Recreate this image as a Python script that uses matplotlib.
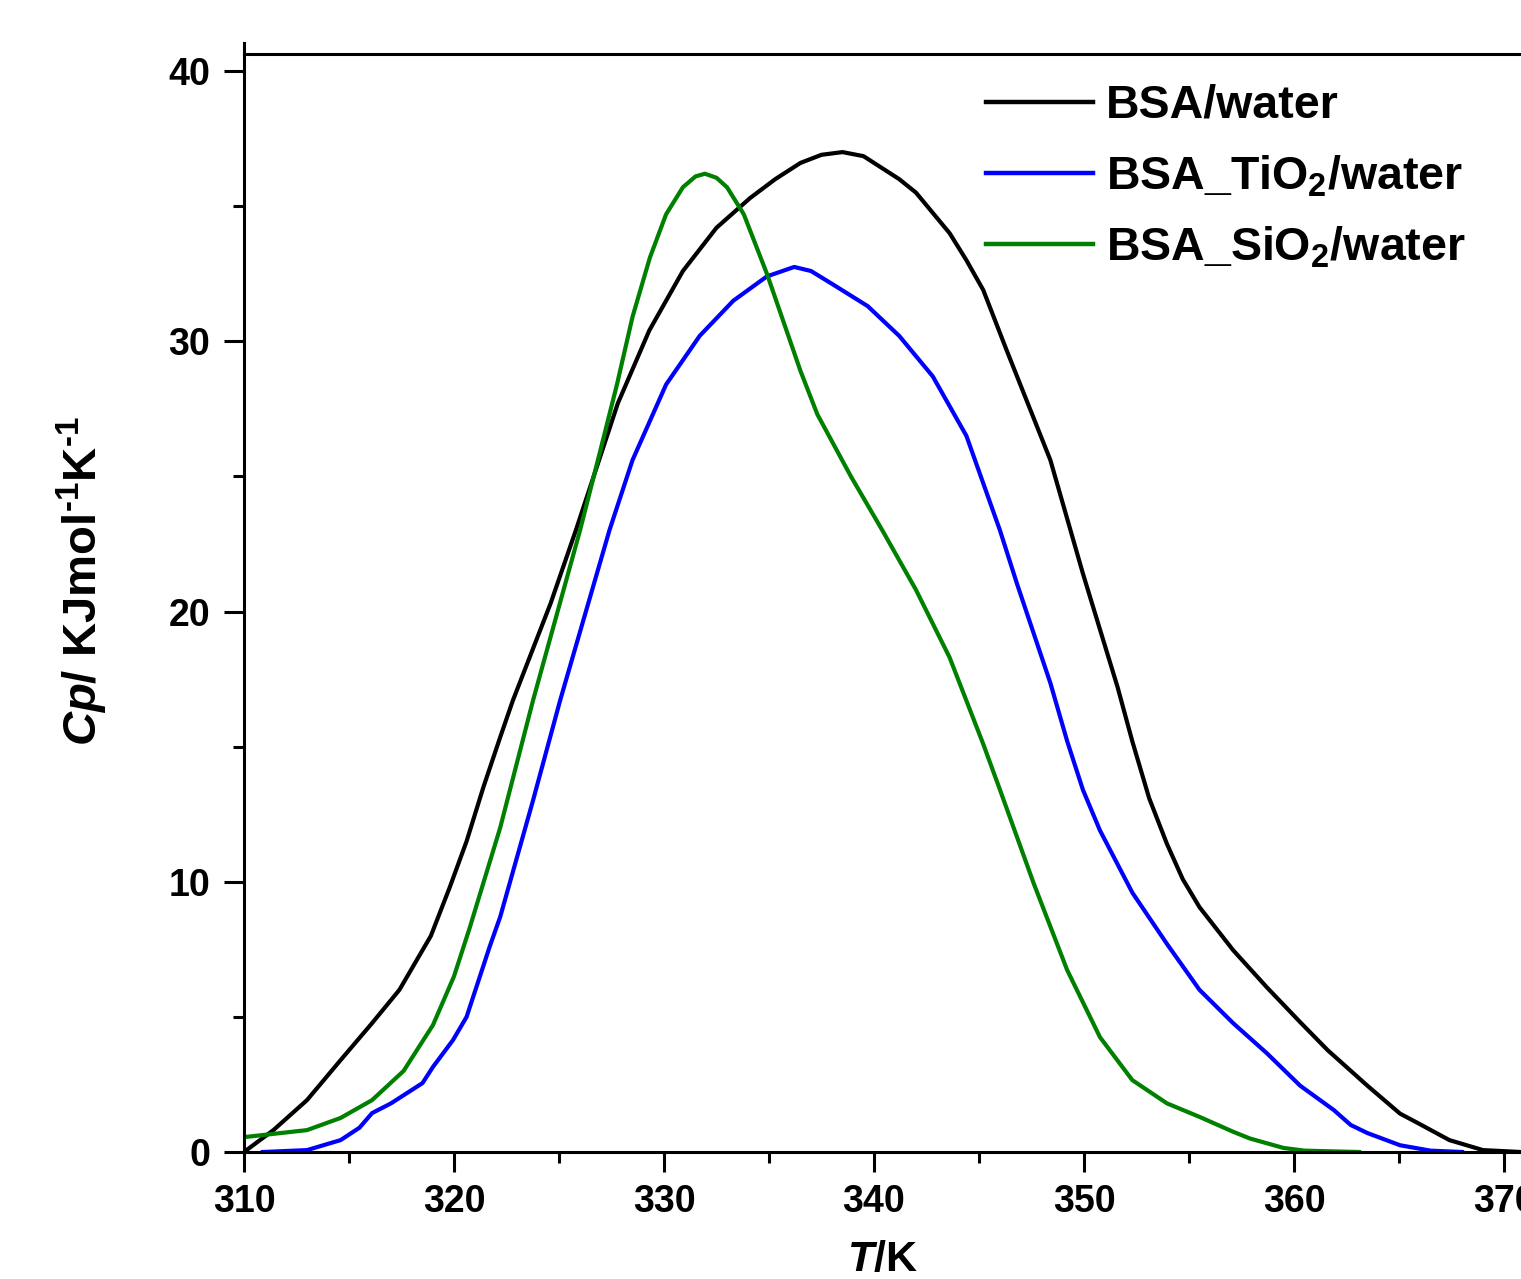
import numpy as np
import matplotlib
matplotlib.use("Agg")
import matplotlib.pyplot as plt

plt.rcParams['font.family'] = ['Liberation Sans', 'DejaVu Sans']
plt.rcParams['font.weight'] = 'bold'
plt.rcParams['mathtext.fontset'] = 'custom'
plt.rcParams['mathtext.rm'] = 'Liberation Sans:bold'
plt.rcParams['mathtext.it'] = 'Liberation Sans:bold:italic'
plt.rcParams['mathtext.bf'] = 'Liberation Sans:bold'

# BSA/water
t_bsa = [310.0, 311.4, 313.0, 314.6, 316.1, 317.4, 318.9, 319.8, 320.6, 321.4,
         322.2, 322.8, 324.6, 325.8, 327.8, 329.3, 330.9, 332.5, 334.1, 335.3,
         336.5, 337.5, 338.5, 339.5, 340.4, 341.2, 342.0, 343.6, 344.4, 345.2,
         346.3, 348.4, 349.95, 351.6, 352.3, 353.1, 353.95, 354.7, 355.5, 357.1,
         358.7, 360.3, 361.6, 363.5, 365.05, 365.9, 367.4, 369.0, 370.8]
cp_bsa = [0.0, 0.81, 1.92, 3.40, 4.77, 6.0, 8.0, 9.8, 11.5, 13.5,
          15.35, 16.7, 20.3, 23.0, 27.7, 30.4, 32.6, 34.2, 35.3, 36.0,
          36.6, 36.9, 37.0, 36.85, 36.4, 36.0, 35.5, 34.0, 33.0, 31.9,
          29.7, 25.6, 21.4, 17.2, 15.2, 13.1, 11.4, 10.1, 9.06, 7.47,
          6.1, 4.8, 3.77, 2.45, 1.42, 1.07, 0.44, 0.07, 0.0]

# BSA_TiO2/water
t_tio2 = [310.9, 313.0, 314.6, 315.5, 316.1, 317.0, 317.4, 318.5, 319.0, 319.95,
          320.6, 321.7, 322.2, 323.76, 325.05, 327.4, 328.5, 330.1, 331.7, 333.3,
          334.9, 336.2, 337.0, 338.05, 339.7, 341.2, 342.8, 344.4, 346.0, 346.8,
          348.4, 349.2, 349.95, 350.76, 352.3, 353.95, 355.5, 357.1, 358.7, 360.3,
          361.9, 362.7, 363.5, 365.05, 366.5, 368.0]
cp_tio2 = [0.0, 0.07, 0.44, 0.9, 1.44, 1.8, 2.0, 2.55, 3.15, 4.14,
           5.0, 7.6, 8.7, 13.0, 16.7, 23.0, 25.6, 28.4, 30.2, 31.5,
           32.4, 32.75, 32.6, 32.1, 31.3, 30.2, 28.7, 26.5, 23.0, 21.05,
           17.35, 15.2, 13.4, 11.9, 9.6, 7.7, 6.0, 4.77, 3.66, 2.45,
           1.55, 1.0, 0.7, 0.25, 0.05, 0.0]

# BSA_SiO2/water
t_sio2 = [310.0, 313.0, 314.6, 316.1, 317.6, 319.0, 320.0, 320.75, 322.2, 323.76,
          326.0, 326.95, 327.76, 328.5, 329.33, 330.1, 330.9, 331.5, 331.95, 332.5,
          333.0, 333.8, 334.9, 335.7, 336.5, 337.3, 338.9, 340.4, 342.0, 343.6,
          345.2, 346.0, 347.6, 349.2, 350.76, 352.3, 353.95, 355.5, 357.1, 357.9,
          359.5, 360.5, 363.1]
cp_sio2 = [0.55, 0.81, 1.26, 1.92, 3.0, 4.7, 6.5, 8.3, 12.0, 16.7,
           23.0, 25.9, 28.4, 30.9, 33.1, 34.7, 35.7, 36.1, 36.2, 36.05,
           35.7, 34.7, 32.5, 30.7, 28.9, 27.3, 25.0, 23.0, 20.8, 18.3,
           15.1, 13.4, 9.95, 6.73, 4.25, 2.66, 1.8, 1.3, 0.75, 0.5,
           0.15, 0.05, 0.0]

labels = ['BSA/water', r'BSA_TiO$_\mathregular{2}$/water', r'BSA_SiO$_\mathregular{2}$/water']
colors = ['black', '#0000ff', '#008000']

W, H = 1521, 1279
fig = plt.figure(figsize=(W / 100, H / 100), dpi=100)
left, right, bottom, top = 244, 1521, 1152, 54
ax = fig.add_axes([left / W, 1 - bottom / H, (right - left) / W, (bottom - top) / H])

lw = 3.0
ax.plot(t_bsa, cp_bsa, color=colors[0], lw=lw, label=labels[0])
ax.plot(t_tio2, cp_tio2, color=colors[1], lw=lw, label=labels[1])
ax.plot(t_sio2, cp_sio2, color=colors[2], lw=lw, label=labels[2])

ax.set_xlim(310, 370.81)
ax.set_ylim(0, 40.63)

for s in ['left', 'bottom', 'top']:
    ax.spines[s].set_linewidth(2.2)
ax.spines['right'].set_visible(False)
ax.spines['left'].set_bounds(0, 41.03)

ax.set_xticks(np.arange(310, 371, 10))
ax.set_xticks(np.arange(315, 371, 10), minor=True)
ax.set_yticks(np.arange(0, 41, 10))
ax.set_yticks(np.arange(5, 40, 10), minor=True)
ax.tick_params(which='major', direction='out', length=14.4, width=2.2, labelsize=27, pad=9)
ax.tick_params(which='minor', direction='out', length=8, width=2.2)
ax.tick_params(axis='y', which='major', pad=10)
ax.tick_params(top=False, right=False, which='both')

ax.set_xlabel(r'$\mathit{T}$/K', fontsize=31, fontweight='bold')
ax.xaxis.set_label_coords(0.5, -0.08)
ax.xaxis.label.set_va('top')
ax.set_ylabel(r'$\mathit{Cp/}$ KJmol$^{\text{-1}}$K$^{\text{-1}}$', fontsize=34, fontweight='bold')
ax.yaxis.set_label_coords(-0.105, 0.52)

leg = ax.legend(loc='upper left', bbox_to_anchor=(986 / W, 1 - 84 / H), bbox_transform=fig.transFigure,
                frameon=False, fontsize=33.5, handlelength=2.3, handletextpad=0.28, labelspacing=0.55,
                borderaxespad=0, borderpad=0)
for line in leg.get_lines():
    line.set_linewidth(3.2)

fig.savefig('out.png', dpi=100)
